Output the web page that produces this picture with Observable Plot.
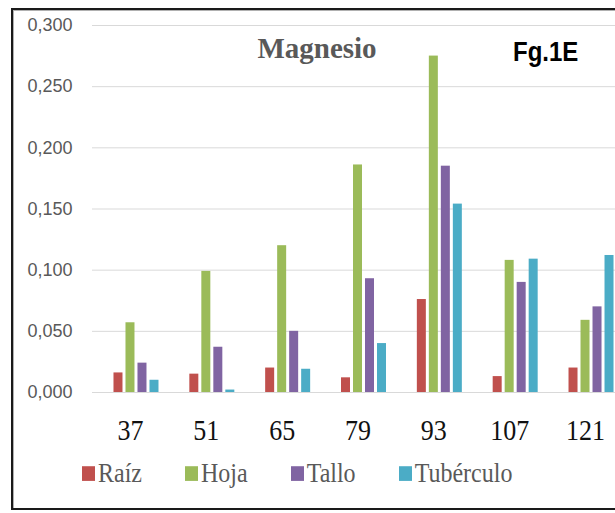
<!DOCTYPE html>
<html>
<head>
<meta charset="utf-8">
<script src="https://cdn.jsdelivr.net/npm/d3@7"></script>
<script src="https://cdn.jsdelivr.net/npm/@observablehq/plot@0.6"></script>
<style>
  html, body { margin: 0; padding: 0; background: #fff; }
  #page { position: relative; width: 615px; height: 513px; overflow: hidden; background: #fff; }
  #frame { position: absolute; left: 11px; top: 8px; width: 700px; height: 498px;
           border: 2px solid #1a1a1a; box-shadow: inset 1px 1px 0 #b0b0b0; }
  #chart { position: absolute; left: 0; top: 0; }
  #chart svg { max-width: none !important; }
  #title { position: absolute; left: 317px; top: 34px; transform: translateX(-50%);
           font: bold 29px "Liberation Serif", serif; color: #595959; white-space: nowrap; line-height: 1; }
  #fig { position: absolute; left: 513px; top: 37px; font: bold 24px "Liberation Sans", Arial, sans-serif;
         color: #000; transform: scaleY(1.18); transform-origin: left top; line-height: 1; white-space: nowrap; }
  #legend { position: absolute; left: 82px; top: 461px; display: flex; gap: 43px; align-items: center;
            font: 24px "Liberation Serif", serif; color: #595959; transform: scaleY(1.13); transform-origin: left center; line-height: 1; }
  #legend .item { display: flex; align-items: center; gap: 3px; white-space: nowrap; }
  #legend .sw { width: 13px; height: 13px; display: inline-block; }
</style>
</head>
<body>
<div id="page">
  <div id="chart"></div>
  <div id="frame"></div>
  <div id="title">Magnesio</div>
  <div id="fig">Fg.1E</div>
  <div id="legend"></div>
</div>
<script>
// ---- data ----
const days = [37, 51, 65, 79, 93, 107, 121];
const raiz = [0.016, 0.015, 0.020, 0.012, 0.076, 0.013, 0.020];
const hoja = [0.057, 0.099, 0.120, 0.186, 0.275, 0.108, 0.059];
const tallo = [0.024, 0.037, 0.050, 0.093, 0.185, 0.090, 0.070];
const tuberculo = [0.010, 0.002, 0.019, 0.040, 0.154, 0.109, 0.112];
const seriesNames = ["Raíz", "Hoja", "Tallo", "Tubérculo"];
const seriesColors = ["#C0504D", "#9BBB59", "#8064A2", "#4BACC6"];
const yTicks = [0, 0.05, 0.10, 0.15, 0.20, 0.25, 0.30];

const seriesValues = [raiz, hoja, tallo, tuberculo];

const barStep = 12, barWidth = 9;
const W = 640, ML = 92, MR = 5;
const step = (W - ML - MR) / (days.length + 0.16);
const inset = (step - barWidth) / 2;

const marks = [
  Plot.gridY(yTicks, {stroke: "#d9d9d9", strokeOpacity: 1, strokeWidth: 1}),
];
seriesValues.forEach((vals, i) => {
  const rows = days.map((d, j) => ({day: String(d), value: vals[j]}));
  marks.push(Plot.barY(rows, {
    x: "day", y: "value", fill: seriesColors[i],
    dx: (i - 1.5) * barStep, insetLeft: inset, insetRight: inset
  }));
});
marks.push(Plot.axisY(yTicks, {
  tickSize: 0, tickPadding: 20, fontSize: 18, fill: "#595959",
  fontFamily: "Liberation Sans, Arial, sans-serif",
  tickFormat: d => d3.format(".3f")(d).replace(".", ",")
}));
marks.push(Plot.axisX({
  tickSize: 0, tickPadding: 27, fontSize: 26, fill: "#111",
  fontFamily: "Liberation Serif, Times New Roman, serif", dx: -6
}));

const svg = Plot.plot({
  width: W, height: 460,
  marginLeft: ML, marginRight: MR, marginTop: 25, marginBottom: 68,
  x: {type: "band", domain: days.map(String), paddingInner: 0, paddingOuter: 0.08, round: false, label: null},
  y: {domain: [0, 0.3], label: null},
  style: {background: "transparent", maxWidth: "none"},
  marks
});
svg.style.maxWidth = "none";
document.getElementById("chart").appendChild(svg);

d3.select(svg).selectAll('g[aria-label="x-axis tick label"] text')
  .attr("transform", function () {
    const t = this.getAttribute("transform") || "";
    return t + " scale(1,1.13)";
  });

const legend = d3.select("#legend");
seriesNames.forEach((name, i) => {
  const it = legend.append("div").attr("class", "item");
  it.append("span").attr("class", "sw").style("background", seriesColors[i]);
  it.append("span").text(name);
});
</script>
</body>
</html>
